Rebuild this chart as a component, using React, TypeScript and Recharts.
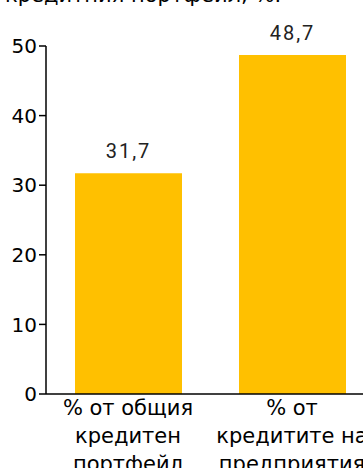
import { BarChart, Bar, XAxis, YAxis, LabelList } from "recharts";

const categories = ["% от общия|кредитен|портфейл", "% от|кредитите на|предприятия"];
const values = [31.7, 48.7];
const yTicks = [0, 10, 20, 30, 40, 50];

const data = categories.map((name, i) => ({ name, value: values[i] }));

const FONT = "'DejaVu Sans', Verdana, sans-serif";

interface TickProps {
  x: number;
  y: number;
  payload: { value: string };
}

// category labels split on "|" into three centred lines
const CategoryTick = ({ x, y, payload }: TickProps) => {
  const lines = payload.value.split("|");
  return (
    <g transform={`translate(${x},${y})`}>
      {lines.map((line, i) => (
        <text
          key={i}
          x={0}
          y={13 + i * 28}
          textAnchor="middle"
          fill="#000"
          fontSize={21}
          fontFamily={FONT}
        >
          {line}
        </text>
      ))}
    </g>
  );
};

export default function App() {
  return (
    <div
      style={{
        position: "absolute",
        left: 0,
        top: 0,
        width: 363,
        height: 468,
        overflow: "hidden",
        background: "#fff",
      }}
    >
      {/* title is cut off by the top edge in the original */}
      <svg width={363} height={12} style={{ position: "absolute", left: 0, top: 0 }}>
        <text x={5} y={2} fontSize={21} fontFamily={FONT} fill="#000">
          кредитния портфейл, %.
        </text>
      </svg>
      <BarChart
        width={380}
        height={468}
        data={data}
        margin={{ top: 46, right: 6, bottom: 0, left: 0 }}
        barSize={107}
      >
        <XAxis
          dataKey="name"
          height={74}
          interval={0}
          tick={(props: TickProps) => <CategoryTick {...props} />}
          tickLine={false}
          axisLine={{ stroke: "#000", strokeWidth: 1.5 }}
        />
        <YAxis
          width={46}
          domain={[0, 50]}
          ticks={yTicks}
          interval={0}
          tickSize={7}
          tickMargin={2}
          tick={{ fill: "#000", fontSize: 20, fontFamily: FONT }}
          tickLine={{ stroke: "#000", strokeWidth: 1.5 }}
          axisLine={{ stroke: "#000", strokeWidth: 1.5 }}
        />
        <Bar dataKey="value" fill="#FFC000" isAnimationActive={false}>
          <LabelList
            dataKey="value"
            position="top"
            offset={15}
            formatter={(v: number) => String(v).replace(".", ",")}
            style={{ fill: "#222", fontSize: 20, fontFamily: "Roboto, sans-serif", letterSpacing: 2 }}
          />
        </Bar>
      </BarChart>
    </div>
  );
}
